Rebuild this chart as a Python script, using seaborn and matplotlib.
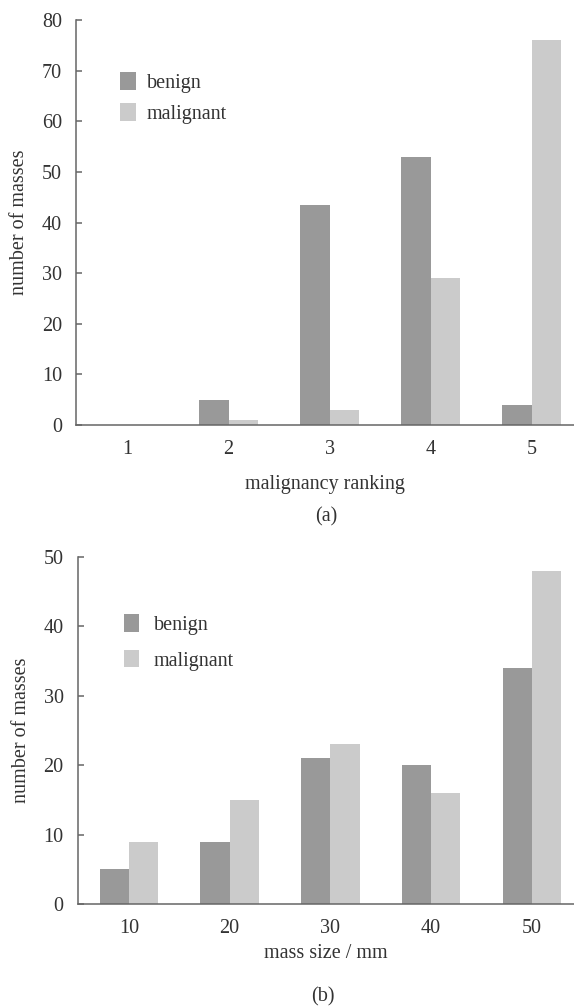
import pandas as pd
import numpy as np

import matplotlib
matplotlib.use('Agg')
import matplotlib.pyplot as plt
import seaborn as sns
from matplotlib.ticker import FixedLocator

# Datos
ranking = ['1', '2', '3', '4', '5']
rank_benign = [0, 5, 43.5, 53, 4]
rank_malignant = [0, 1, 3, 29, 76]

sizes = ['10', '20', '30', '40', '50']
size_benign = [5, 9, 21, 20, 34]
size_malignant = [9, 15, 23, 16, 48]

series = ['benign', 'malignant']
colores = ['#999999', '#cbcbcb']

sns.set_style('white')
plt.rcParams['font.family'] = ['Liberation Serif', 'DejaVu Serif']
fs = 14.5
text_color = '#333333'
spine_color = '#666666'


def tabla(cats, benign, malignant, nombre):
    return pd.DataFrame({
        nombre: cats * 2,
        'count': benign + malignant,
        'type': ['benign'] * len(cats) + ['malignant'] * len(cats),
    })


def dibujar(ax, df, nombre, ymax, xlabel, labelpad):
    sns.barplot(data=df, x=nombre, y='count', hue='type', hue_order=series,
                palette=colores, saturation=1, width=0.58, linewidth=0, ax=ax)
    ax.set_ylim(0, ymax)
    ax.set_yticks(np.arange(0, ymax + 1, 10))
    ax.set_xlim(-0.51, 4.42)
    for s in ['top', 'right']:
        ax.spines[s].set_visible(False)
    for s in ['left', 'bottom']:
        ax.spines[s].set_color(spine_color)
        ax.spines[s].set_linewidth(1.1)
    ax.xaxis.set_minor_locator(FixedLocator([0.5, 1.5, 2.5, 3.5]))
    ax.tick_params(axis='x', which='major', length=0, pad=11, labelsize=fs, labelcolor=text_color)
    ax.tick_params(axis='x', which='minor', direction='in', length=4, width=1.1, color=spine_color)
    ax.tick_params(axis='y', direction='in', length=4, width=1.1, color=spine_color,
                   pad=10, labelsize=fs, labelcolor=text_color, left=True)
    ax.set_xlabel(xlabel, fontsize=fs, color=text_color, labelpad=labelpad)
    ax.set_ylabel('number of masses', fontsize=fs, color=text_color, labelpad=9)


fig = plt.figure(figsize=(5.74, 10.06), dpi=100)

# (a) ranking de malignidad
ax1 = fig.add_axes([0.1324, 0.5775, 0.8676, 0.4026])
dibujar(ax1, tabla(ranking, rank_benign, rank_malignant, 'rank'), 'rank', 80,
        'malignancy ranking', 11)
ax1.legend(loc='upper left', bbox_to_anchor=(0.089, 0.872), frameon=False, fontsize=fs,
           handlelength=0.8, handleheight=1.0, handletextpad=0.5, labelspacing=0.5,
           borderpad=0, borderaxespad=0, labelcolor=text_color)

# (b) tamano de la masa
ax2 = fig.add_axes([0.1352, 0.1014, 0.8648, 0.345])
dibujar(ax2, tabla(sizes, size_benign, size_malignant, 'size'), 'size', 50,
        'mass size / mm', 4)
ax2.legend(loc='upper left', bbox_to_anchor=(0.094, 0.835), frameon=False, fontsize=fs,
           handlelength=0.75, handleheight=0.95, handletextpad=0.72, labelspacing=0.75,
           borderpad=0, borderaxespad=0, labelcolor=text_color)

fig.text(0.568, 1 - 517 / 1006, '(a)', ha='center', va='center', fontsize=fs, color=text_color)
fig.text(0.563, 1 - 997 / 1006, '(b)', ha='center', va='center', fontsize=fs, color=text_color)

fig.savefig('out.png', dpi=100)
